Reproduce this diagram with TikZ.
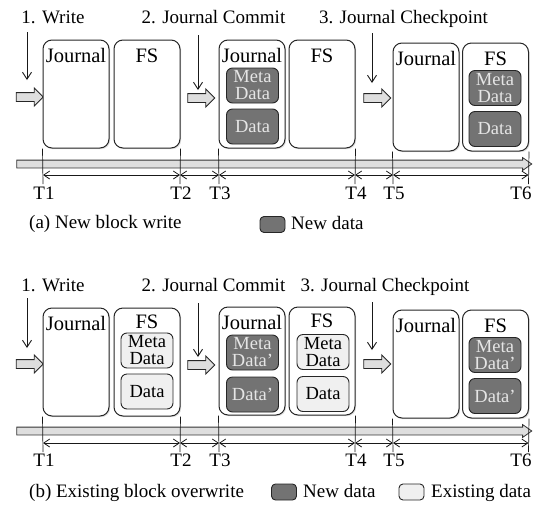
\documentclass[tikz,border=0pt]{standalone}
\usepackage{fontspec}
\setmainfont{Liberation Serif}
\usetikzlibrary{shapes.arrows, arrows.meta, positioning, calc, shadows}
\tikzset{
    outer_box/.style={
        rectangle, rounded corners=9pt, draw=black!85, line width=1pt, fill=white,
        minimum width=66pt, minimum height=108pt, inner sep=0pt,
        drop shadow={opacity=0.25, shadow xshift=1.2pt, shadow yshift=-1.2pt}
    },
    inner_new/.style={
        rectangle, rounded corners=6pt, draw=black!85, line width=0.9pt,
        fill=black!55, text=black!10, minimum width=52pt, minimum height=35pt,
        inner sep=0pt, align=center, font=\fontsize{18.5}{17}\selectfont
    },
    inner_old/.style={
        inner_new, fill=black!6, text=black
    },
    legend_new/.style={
        rectangle, rounded corners=4pt, draw=black!85, line width=0.9pt,
        fill=black!55, minimum width=25pt, minimum height=16pt, inner sep=0pt
    },
    legend_old/.style={
        legend_new, fill=black!6
    },
    title_lbl/.style={font=\fontsize{20.5}{22}\selectfont, inner sep=0pt, anchor=base},
    step_lbl/.style={font=\fontsize{19}{21}\selectfont, inner sep=0pt, anchor=base},
    cap_lbl/.style={font=\fontsize{19}{21}\selectfont, inner sep=0pt, anchor=base west},
    blk_arrow/.style={
        single arrow, draw=black!85, fill=black!13, line width=0.9pt,
        minimum height=27pt, inner xsep=0pt, inner ysep=4pt,
        single arrow head extend=4.5pt, single arrow head indent=0pt
    },
    time_bar/.style={
        single arrow, draw=black!80, fill=black!13, line width=0.8pt,
        minimum height=515pt, inner xsep=0pt, inner ysep=3.5pt,
        single arrow head extend=2.5pt, single arrow tip angle=70
    },
    down_arrow/.style={-{Straight Barb[length=7pt, width=9pt]}, line width=0.9pt, draw=black!90},
    time_arrow/.style={{Straight Barb[length=6pt, width=8pt]}-{Straight Barb[length=6pt, width=8pt]}, line width=0.8pt, draw=black!90},
    tick_line/.style={line width=0.7pt, draw=black!90}
}
\begin{document}
\begin{tikzpicture}[x=1pt, y=-1pt]

    \useasboundingbox (0,0) rectangle (544,507);

    % --- (a) Steps ---
    \node[step_lbl] (s1a) at (53,23.5) {1. Write};
    \node[step_lbl] (s2a) at (213.5,23.5) {2. Journal Commit};
    \node[step_lbl] (s3a) at (403.5,23.5) {3. Journal Checkpoint};

    \node[blk_arrow] (b1a) at (27.5,97) {};
    \node[blk_arrow] (b2a) at (199,98) {};
    \node[blk_arrow] (b3a) at (375,98) {};

    \coordinate (d1a) at (27,32);
    \coordinate (e1a) at (27,80);
    \coordinate (d2a) at (198,35);
    \coordinate (e2a) at (198,90);
    \coordinate (d3a) at (372,33);
    \coordinate (e3a) at (372,83);
    \draw[down_arrow] (d1a) -- (e1a);
    \draw[down_arrow] (d2a) -- (e2a);
    \draw[down_arrow] (d3a) -- (e3a);

    % --- (a) Journal & FS ---
    \node[outer_box] (j1a) at (76,94) {};
    \node[title_lbl] (j1a_t) at ([yshift=-23pt]j1a.north) {Journal};
    \node[outer_box] (f1a) at (147,94) {};
    \node[title_lbl] (f1a_t) at ([yshift=-23pt]f1a.north) {FS};

    \node[outer_box] (j2a) at (252,94) {};
    \node[title_lbl] (j2a_t) at ([yshift=-23pt]j2a.north) {Journal};
    \node[inner_new] (m2a) at (252.5,85.5) {Meta\\Data};
    \node[inner_new] (x2a) at (252.5,126.5) {Data};
    \node[outer_box] (f2a) at (322,94) {};
    \node[title_lbl] (f2a_t) at ([yshift=-23pt]f2a.north) {FS};

    \node[outer_box] (j3a) at (426,97) {};
    \node[title_lbl] (j3a_t) at ([yshift=-23pt]j3a.north) {Journal};
    \node[outer_box] (f3a) at (495.5,97) {};
    \node[title_lbl] (f3a_t) at ([yshift=-23pt]f3a.north) {FS};
    \node[inner_new] (m3a) at (495,88) {Meta\\Data};
    \node[inner_new] (x3a) at (495,129) {Data};

    % --- (a) Timeline ---
    \node[time_bar] (bara) at (271.5,164) {};

    \coordinate (p1a) at (43,175);
    \coordinate (p2a) at (180,175);
    \coordinate (p3a) at (219,175);
    \coordinate (p4a) at (355,175);
    \coordinate (p5a) at (393,175);
    \coordinate (p6a) at (528.5,175);

    \draw[tick_line] (j1a.south west) -- ([yshift=-9pt]p1a);
    \draw[tick_line] (f1a.south east) -- ([yshift=-9pt]p2a);
    \draw[tick_line] (j2a.south west) -- ([yshift=-9pt]p3a);
    \draw[tick_line] (f2a.south east) -- ([yshift=-9pt]p4a);
    \draw[tick_line] (j3a.south west) -- ([yshift=-9pt]p5a);
    \draw[tick_line] (f3a.south east) -- ([yshift=-9pt]p6a);

    \draw[time_arrow] (p1a) -- (p2a);
    \draw[time_arrow] (p2a) -- (p3a);
    \draw[time_arrow] (p3a) -- (p4a);
    \draw[time_arrow] (p4a) -- (p5a);
    \draw[time_arrow] (p5a) -- (p6a);

    \node[step_lbl] (T1a) at (44,199) {T1};
    \node[step_lbl] (T2a) at (181,199) {T2};
    \node[step_lbl] (T3a) at (220,199) {T3};
    \node[step_lbl] (T4a) at (356,199) {T4};
    \node[step_lbl] (T5a) at (394,199) {T5};
    \node[step_lbl] (T6a) at (521,199) {T6};

    % --- (a) Caption & legend ---
    \node[cap_lbl] (capa) at (29,228) {(a) New block write};
    \node[legend_new] (lga) at (272.5,224.5) {};
    \node[cap_lbl] (lgta) at (291,229) {New data};

    % --- (b) Steps ---
    \node[step_lbl] (s1b) at (53,291) {1. Write};
    \node[step_lbl] (s2b) at (213.5,291) {2. Journal Commit};
    \node[step_lbl] (s3b) at (385,291) {3. Journal Checkpoint};

    \node[blk_arrow] (b1b) at (27.5,364) {};
    \node[blk_arrow] (b2b) at (199,365) {};
    \node[blk_arrow] (b3b) at (375,364) {};

    \coordinate (d1b) at (27,298);
    \coordinate (e1b) at (27,348);
    \coordinate (d2b) at (198,303);
    \coordinate (e2b) at (198,357);
    \coordinate (d3b) at (372,302);
    \coordinate (e3b) at (372,350);
    \draw[down_arrow] (d1b) -- (e1b);
    \draw[down_arrow] (d2b) -- (e2b);
    \draw[down_arrow] (d3b) -- (e3b);

    % --- (b) Journal & FS ---
    \node[outer_box] (j1b) at (76,362) {};
    \node[title_lbl] (j1b_t) at ([yshift=-23pt]j1b.north) {Journal};
    \node[outer_box] (f1b) at (147,362) {};
    \node[title_lbl] (f1b_t) at ([yshift=-21pt]f1b.north) {FS};
    \node[inner_old] (m1b) at (147,350.5) {Meta\\Data};
    \node[inner_old] (x1b) at (147,391.5) {Data};

    \node[outer_box] (j2b) at (252,361) {};
    \node[title_lbl] (j2b_t) at ([yshift=-23pt]j2b.north) {Journal};
    \node[inner_new] (m2b) at (252.5,352.5) {Meta\\Data'};
    \node[inner_new] (x2b) at (252.5,394.5) {Data'};
    \node[outer_box] (f2b) at (322,361) {};
    \node[title_lbl] (f2b_t) at ([yshift=-21pt]f2b.north) {FS};
    \node[inner_old] (m2bf) at (323,352) {Meta\\Data};
    \node[inner_old] (x2bf) at (323,394) {Data};

    \node[outer_box] (j3b) at (426,364) {};
    \node[title_lbl] (j3b_t) at ([yshift=-23pt]j3b.north) {Journal};
    \node[outer_box] (f3b) at (495.5,364) {};
    \node[title_lbl] (f3b_t) at ([yshift=-23pt]f3b.north) {FS};
    \node[inner_new] (m3b) at (495,355) {Meta\\Data'};
    \node[inner_new] (x3b) at (495,396) {Data'};

    % --- (b) Timeline ---
    \node[time_bar] (barb) at (271.5,431) {};

    \coordinate (p1b) at (43,443);
    \coordinate (p2b) at (180,443);
    \coordinate (p3b) at (219,443);
    \coordinate (p4b) at (355,443);
    \coordinate (p5b) at (393,443);
    \coordinate (p6b) at (528.5,443);

    \draw[tick_line] (j1b.south west) -- ([yshift=-9pt]p1b);
    \draw[tick_line] (f1b.south east) -- ([yshift=-9pt]p2b);
    \draw[tick_line] (j2b.south west) -- ([yshift=-9pt]p3b);
    \draw[tick_line] (f2b.south east) -- ([yshift=-9pt]p4b);
    \draw[tick_line] (j3b.south west) -- ([yshift=-9pt]p5b);
    \draw[tick_line] (f3b.south east) -- ([yshift=-9pt]p6b);

    \draw[time_arrow] (p1b) -- (p2b);
    \draw[time_arrow] (p2b) -- (p3b);
    \draw[time_arrow] (p3b) -- (p4b);
    \draw[time_arrow] (p4b) -- (p5b);
    \draw[time_arrow] (p5b) -- (p6b);

    \node[step_lbl] (T1b) at (44,466) {T1};
    \node[step_lbl] (T2b) at (181,466) {T2};
    \node[step_lbl] (T3b) at (220,466) {T3};
    \node[step_lbl] (T4b) at (356,466) {T4};
    \node[step_lbl] (T5b) at (394,466) {T5};
    \node[step_lbl] (T6b) at (521,466) {T6};

    % --- (b) Caption & legend ---
    \node[cap_lbl] (capb) at (29,497) {(b) Existing block overwrite};
    \node[legend_new] (lgb) at (284,492) {};
    \node[cap_lbl] (lgtb) at (303,497) {New data};
    \node[legend_old] (lgob) at (411.5,492) {};
    \node[cap_lbl] (lgtob) at (431,497) {Existing data};

\end{tikzpicture}
\end{document}
